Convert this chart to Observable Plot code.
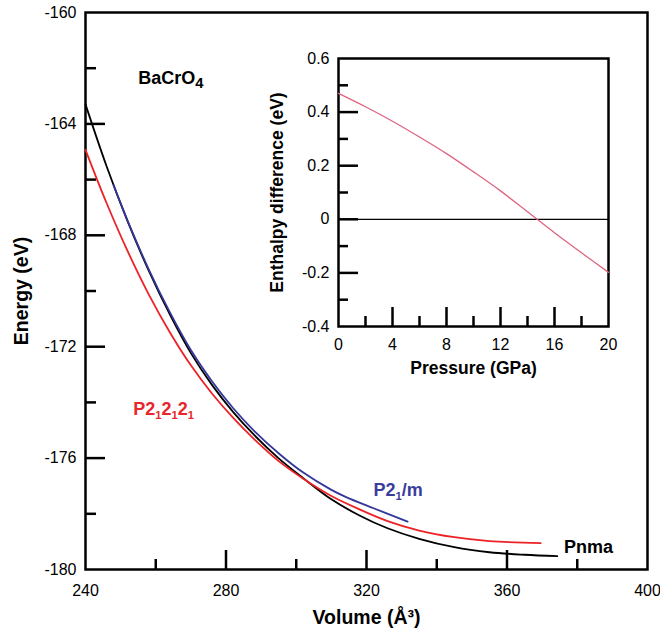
<!DOCTYPE html>
<html><head><meta charset="utf-8">
<script src="https://cdn.jsdelivr.net/npm/d3@7"></script>
<script src="https://cdn.jsdelivr.net/npm/@observablehq/plot@0.6"></script>
<style>
body{margin:0;background:#fff;}
#wrap{position:relative;width:660px;height:631px;}
#wrap svg{position:absolute;overflow:visible;}
</style></head><body><div id="wrap"></div>
<script>
const FONT = '"Liberation Sans", Arial, Helvetica, sans-serif';

// ---- main chart data (Volume Å^3, Energy eV) ----
const volPnma = [240,246,252,258,264,270,276,282,288,295,302,310,318,326,335,345,355,365,374.3];
const enPnma  = [-163.3,-165.52,-167.5,-169.27,-170.84,-172.23,-173.37,-174.34,-175.17,-176.01,-176.72,-177.48,-178.06,-178.52,-178.9,-179.2,-179.38,-179.47,-179.52];
const volP212121 = [240,246,252,258,264,270,276,282,288,295,302,310,318,326,335,345,355,369.6];
const enP212121  = [-164.93,-166.84,-168.57,-170.12,-171.48,-172.67,-173.68,-174.55,-175.32,-176.11,-176.74,-177.36,-177.84,-178.26,-178.6,-178.84,-178.98,-179.05];
const volP21m = [248,252,258,264,270,276,282,288,295.3,302,310,314.2,322,331.7];
const enP21m  = [-166.2,-167.48,-169.22,-170.76,-172.12,-173.24,-174.2,-175.02,-175.86,-176.52,-177.14,-177.4,-177.8,-178.28];

const xMajor = [280,320,360];
const xMinor = [260,300,340,380];
const xLabels = [240,280,320,360,400];
const yMajor = [-176,-172,-168,-164];
const yMinor = [-178,-174,-170,-166,-162];
const yLabels = [-180,-176,-172,-168,-164,-160];

const labelTexts = ["BaCrO₄","P2₁2₁2₁","P2₁/m","Pnma"];
const labelAt = [[255.0,-162.35],[253.6,-174.25],[322.0,-177.16],[376.2,-179.19]];

// ---- inset data (Pressure GPa, Enthalpy difference eV) ----
const pressure = [0,2,4,6,8,10,12,14,16,18,20];
const enthalpy = [0.47,0.42,0.366,0.307,0.245,0.177,0.106,0.028,-0.05,-0.125,-0.198];
const pMajor = [4,8,12,16];
const pMinor = [2,6,10,14,18];
const pLabels = [0,4,8,12,16,20];
const hMajor = [-0.2,0,0.2,0.4];
const hMinor = [-0.3,-0.1,0.1,0.3,0.5];
const hLabels = [-0.4,-0.2,0,0.2,0.4,0.6];

const fmt = d => String(d);
const series = (v, e) => v.map((x, i) => ({x, y: e[i]}));
const RED = "#ec2227", BLUE = "#34379a", PINK = "#de6580";

const annotations = labelTexts.map((t, i) => ({text: t, x: labelAt[i][0], y: labelAt[i][1]}));
const labelColors = ["#000", "#e8262c", "#3a3d9c", "#000"];

const main = Plot.plot({
  width: 660, height: 631,
  marginLeft: 85, marginRight: 13, marginTop: 12, marginBottom: 62,
  style: {fontFamily: FONT, fontSize: "16px", color: "#000", background: "transparent", overflow: "visible"},
  x: {domain: [240, 400]},
  y: {domain: [-180, -160]},
  marks: [
    Plot.axisX({ticks: xMajor, tickSize: -19, strokeWidth: 2.5, fill: "none", label: null}),
    Plot.axisX({ticks: xMinor, tickSize: -10, strokeWidth: 2.5, fill: "none", label: null}),
    Plot.axisX({ticks: xLabels, tickSize: 0, tickPadding: 15, tickFormat: fmt, label: null, fontSize: 16}),
    Plot.axisY({ticks: yMajor, tickSize: -20, strokeWidth: 2.5, fill: "none", label: null}),
    Plot.axisY({ticks: yMinor, tickSize: -11, strokeWidth: 2.5, fill: "none", label: null}),
    Plot.axisY({ticks: yLabels, tickSize: 0, tickPadding: 9, tickFormat: fmt, label: null, fontSize: 16}),
    Plot.frame({strokeWidth: 2.5}),
    Plot.line(series(volPnma, enPnma), {x: "x", y: "y", stroke: "#000", strokeWidth: 1.8, curve: "catmull-rom"}),
    Plot.line(series(volP212121, enP212121), {x: "x", y: "y", stroke: RED, strokeWidth: 1.8, curve: "catmull-rom"}),
    Plot.line(series(volP21m, enP21m), {x: "x", y: "y", stroke: BLUE, strokeWidth: 1.8, curve: "catmull-rom"}),
    Plot.text(annotations, {x: "x", y: "y", text: "text", fill: (d, i) => labelColors[i], textAnchor: "start", lineAnchor: "middle", fontWeight: "bold", fontSize: 18}),
    Plot.text(["Energy (eV)"], {frameAnchor: "left", dx: -64, rotate: -90, textAnchor: "middle", lineAnchor: "middle", fontWeight: "bold", fontSize: 19.5}),
    Plot.text(["Volume (Å³)"], {frameAnchor: "bottom", dy: 48, textAnchor: "middle", lineAnchor: "middle", fontWeight: "bold", fontSize: 19.5})
  ]
});

const inset = Plot.plot({
  width: 360, height: 333,
  marginLeft: 78, marginRight: 12, marginTop: 10, marginBottom: 55,
  style: {fontFamily: FONT, fontSize: "16px", color: "#000", background: "transparent", overflow: "visible"},
  x: {domain: [0, 20]},
  y: {domain: [-0.4, 0.6]},
  marks: [
    Plot.axisX({ticks: pMajor, tickSize: -19, strokeWidth: 2.5, fill: "none", label: null}),
    Plot.axisX({ticks: pMinor, tickSize: -10, strokeWidth: 2.5, fill: "none", label: null}),
    Plot.axisX({ticks: pLabels, tickSize: 0, tickPadding: 12, tickFormat: fmt, label: null, fontSize: 16}),
    Plot.axisY({ticks: hMajor, tickSize: -20, strokeWidth: 2.5, fill: "none", label: null}),
    Plot.axisY({ticks: hMinor, tickSize: -10, strokeWidth: 2.5, fill: "none", label: null}),
    Plot.axisY({ticks: hLabels, tickSize: 0, tickPadding: 9, tickFormat: fmt, label: null, fontSize: 16}),
    Plot.ruleY([0], {stroke: "#000", strokeWidth: 1.3}),
    Plot.frame({strokeWidth: 2.5}),
    Plot.line(series(pressure, enthalpy), {x: "x", y: "y", stroke: PINK, strokeWidth: 1.3, curve: "catmull-rom"}),
    Plot.text(["Pressure (GPa)"], {frameAnchor: "bottom", dy: 42, textAnchor: "middle", lineAnchor: "middle", fontWeight: "bold", fontSize: 17.5}),
    Plot.text(["Enthalpy difference (eV)"], {frameAnchor: "left", dx: -61, rotate: -90, textAnchor: "middle", lineAnchor: "middle", fontWeight: "bold", fontSize: 17.5})
  ]
});

// render unicode subscripts as lowered, smaller digits
const SUB = "₀₁₂₃₄₅₆₇₈₉";
function fixSubscripts(svg, base) {
  svg.querySelectorAll("text").forEach(el => {
    const s = el.textContent;
    if (![...s].some(c => SUB.includes(c))) return;
    el.textContent = "";
    let shifted = false;
    for (const c of s) {
      const k = SUB.indexOf(c);
      const t = document.createElementNS("http://www.w3.org/2000/svg", "tspan");
      if (k >= 0) {
        t.textContent = String(k);
        const big = k === 4;
        t.setAttribute("font-size", (base * (big ? 0.82 : 0.62)) + "px");
        if (!shifted) { t.setAttribute("dy", "4"); shifted = true; }
      } else {
        t.textContent = c;
        if (shifted) { t.setAttribute("dy", "-4"); shifted = false; }
      }
      el.appendChild(t);
    }
  });
}
fixSubscripts(main, 18);

main.style.left = "0px"; main.style.top = "0px";
inset.style.left = "260px"; inset.style.top = "48px";
const wrap = document.getElementById("wrap");
wrap.appendChild(main);
wrap.appendChild(inset);
</script></body></html>
